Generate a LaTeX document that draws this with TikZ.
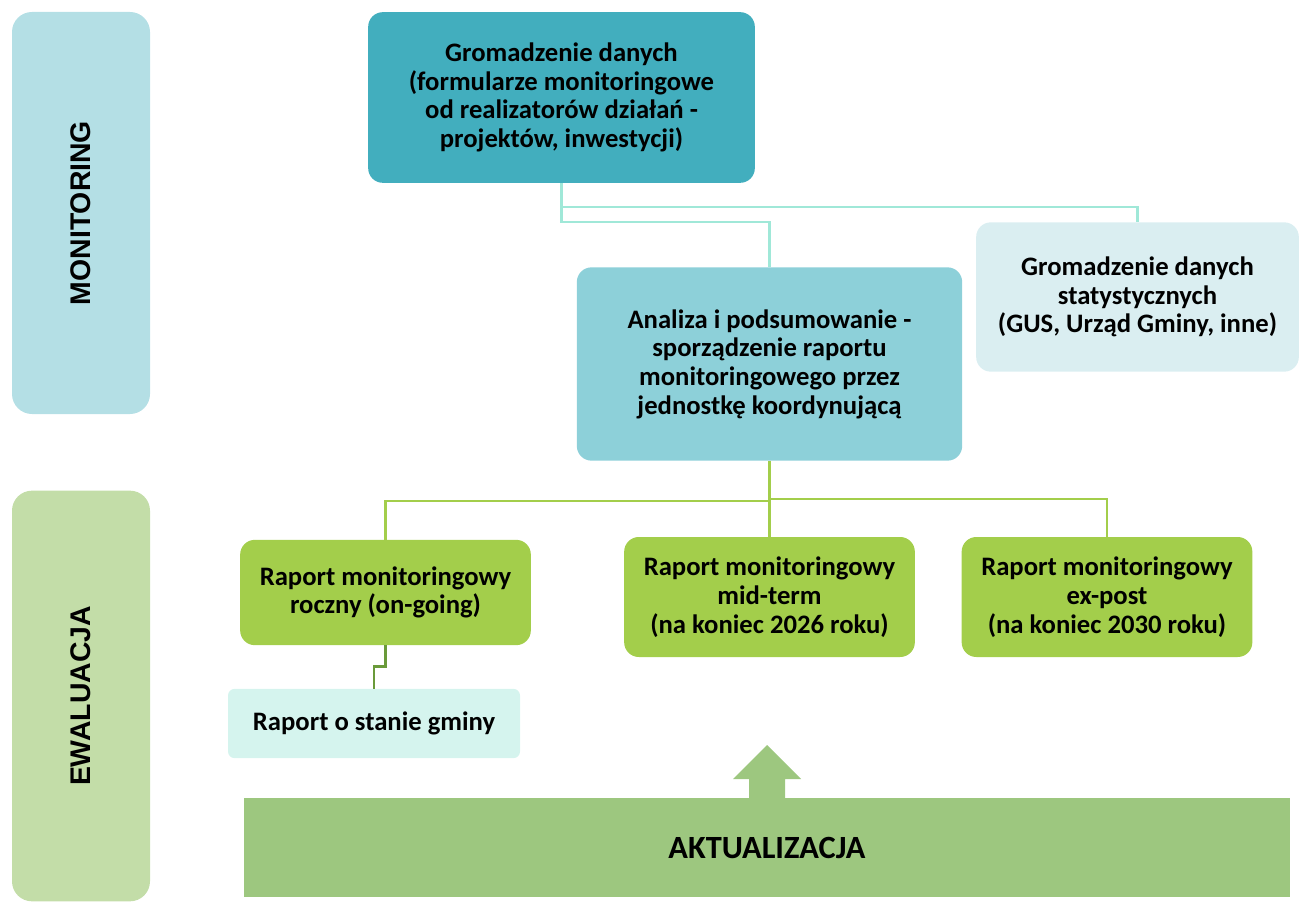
\documentclass[tikz,border=0pt]{standalone}
\usepackage{fontspec}
\setmainfont{Carlito}
\newfontfamily\sidefont{Liberation Sans}
\definecolor{moncol}{HTML}{B4DFE5}
\definecolor{ewacol}{HTML}{C3DDA8}
\definecolor{zbiercol}{HTML}{42AEBE}
\definecolor{analcol}{HTML}{8DD0D9}
\definecolor{guscol}{HTML}{DAEEF1}
\definecolor{raportcol}{HTML}{A3CE4B}
\definecolor{stancol}{HTML}{D5F4EE}
\definecolor{aktcol}{HTML}{9DC77F}
\definecolor{linecol}{HTML}{A0E8D8}
\definecolor{stepcol}{HTML}{6A9A3A}
\tikzset{
  sidebox/.style={fill=#1,rounded corners=15pt,minimum width=103.5pt,inner sep=0pt},
  sidetext/.style={rotate=90,font=\sidefont\fontsize{21.3}{24}\selectfont\bfseries},
  box/.style={fill=#1,rounded corners=11pt,inner sep=0pt,align=center,
    font=\fontsize{20}{21.5}\selectfont\bfseries},
  tealline/.style={draw=linecol,line width=1.6pt},
  greenline/.style={draw=raportcol,line width=2pt},
  stepline/.style={draw=stepcol,line width=2pt}
}
\begin{document}
\begin{tikzpicture}[x=0.75pt,y=-0.75pt]
\useasboundingbox (0,0) rectangle (1302,902);
% pasy boczne
\node[sidebox=moncol,minimum height=301.5pt] (mon) at (81,213) {};
\node[sidetext] at (mon.center) {MONITORING};
\node[sidebox=ewacol,minimum height=308pt] (ewa) at (81,696) {};
\node[sidetext] at (ewa.center) {EWALUACJA};
% monitoring
\node[box=zbiercol,minimum width=290pt,minimum height=128pt] (zbier) at (561.5,97.5)
  {Gromadzenie danych\\(formularze monitoringowe\\od realizatorów działań -\\projektów, inwestycji)};
\node[box=analcol,minimum width=289pt,minimum height=145pt] (anal) at (769.5,364)
  {Analiza i podsumowanie -\\sporządzenie raportu\\monitoringowego przez\\jednostkę koordynującą};
\node[box=guscol,minimum width=242pt,minimum height=112pt] (gus) at (1137.5,297)
  {Gromadzenie danych\\statystycznych\\(GUS, Urząd Gminy, inne)};
% ewaluacja
\node[box=raportcol,minimum width=218pt,minimum height=79pt] (roczny) at (385.5,592.5)
  {Raport monitoringowy\\roczny (on-going)};
\node[box=raportcol,minimum width=218pt,minimum height=90pt] (midterm) at (769.5,597)
  {Raport monitoringowy\\mid-term\\(na koniec 2026 roku)};
\node[box=raportcol,minimum width=218pt,minimum height=90pt] (expost) at (1107,597)
  {Raport monitoringowy\\ex-post\\(na koniec 2030 roku)};
\node[box=stancol,rounded corners=5pt,minimum width=219pt,minimum height=52pt] (stan) at (374,723.5)
  {Raport o stanie gminy};
\node[box=aktcol,rounded corners=0pt,minimum width=784.5pt,minimum height=74pt,
  font=\fontsize{24.3}{26}\selectfont\bfseries] (akt) at (767,847.5) {AKTUALIZACJA};
\fill[aktcol] (749,799) -- (749,779) -- (733,779) -- (767,745) -- (801,779) -- (785,779) -- (785,799) -- cycle;
% polaczenia
\draw[tealline] (zbier.south) -- ++(0,24) -| (gus.north);
\draw[tealline] (zbier.south) -- ++(0,39) -| (anal.north);
\draw[greenline] (anal.south) -- ++(0,40) -| (roczny.north);
\draw[greenline] (anal.south) -- (midterm.north);
\draw[greenline] (anal.south) ++(0,38) -| (expost.north);
\draw[stepline] (roczny.south) -- ++(0,21) -| (stan.north);
\end{tikzpicture}
\end{document}
